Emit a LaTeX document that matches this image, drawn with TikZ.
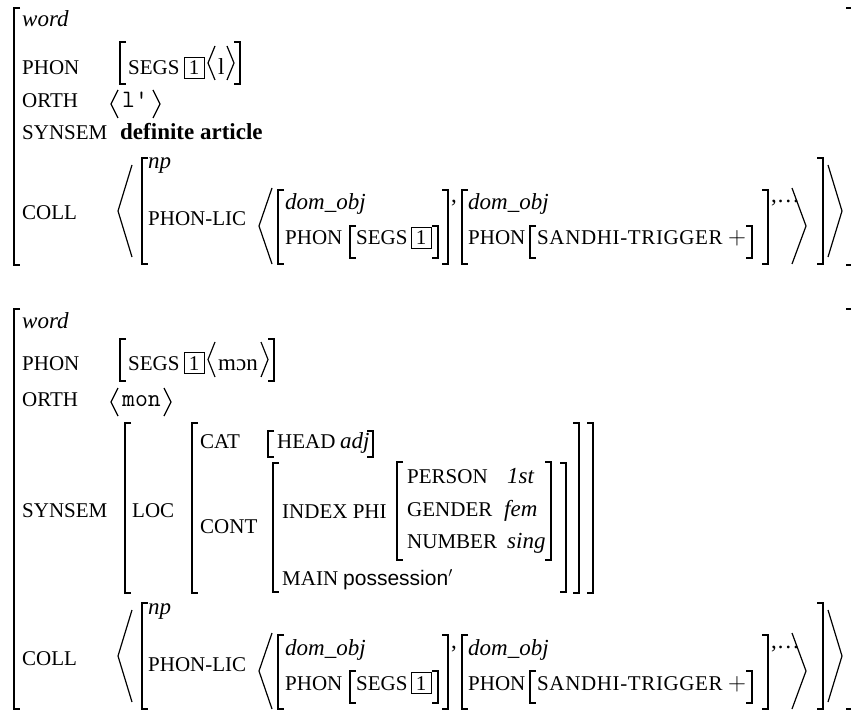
\documentclass[tikz,border=0pt]{standalone}
\usepackage{fontspec}
\setmainfont{Liberation Serif}
\setsansfont{Liberation Sans}
\usetikzlibrary{calc}
\tikzset{
  x=1pt, y=-1pt,
  lab/.style={anchor=base west, inner sep=0pt, font=\fontsize{21}{24}\selectfont},
  ity/.style={anchor=base west, inner sep=0pt, font=\fontsize{23}{27}\selectfont\itshape},
  bfy/.style={anchor=base west, inner sep=0pt, font=\fontsize{23}{27}\selectfont\bfseries},
  rmy/.style={anchor=base west, inner sep=0pt, font=\fontsize{23}{27}\selectfont},
  tty/.style={anchor=base west, inner sep=0pt, font=\fontsize{25}{28}\selectfont\ttfamily},
  sfy/.style={anchor=base west, inner sep=0pt, font=\fontsize{21}{25}\selectfont\sffamily},
  bx/.style={anchor=base west, draw, line width=0.9pt, inner xsep=4.5pt, inner ysep=2.5pt,
     text height=15pt, text depth=1pt, font=\fontsize{21}{23}\selectfont},
  brk/.style={line width=1.4pt},
  obrk/.style={line width=1.8pt},
  abr/.style={line width=1.2pt}
}
\newcommand\LB[4]{\draw[#4] ({#1+6},#2) -- (#1,#2) -- (#1,#3) -- ({#1+6},#3);}
\newcommand\RB[4]{\draw[#4] ({#1-6},#2) -- (#1,#2) -- (#1,#3) -- ({#1-6},#3);}
\newcommand\LA[4]{\draw[abr] (#2,#3) -- (#1,{(#3+#4)/2}) -- (#2,#4);}
\newcommand\RA[4]{\draw[abr] (#2,#3) -- (#1,{(#3+#4)/2}) -- (#2,#4);}
% COLL block, shifted by #1
\newcommand\collblock[2]{%
  \begin{scope}[yshift=-#1pt]
  \node[lab] (coll#2) at (22,220) {COLL};
  \LA{118}{132}{165}{257}
  \LB{142}{158}{264}{brk}
  \node[ity] (np#2) at (148,169) {np};
  \node[lab] (phonlic#2) at (148,226) {PHON-LIC};
  \LA{259}{272}{188}{264}
  \LB{278}{190}{264}{brk}
  \node[ity] (doma#2) at (285,210) {dom\_obj};
  \node[lab] (phona#2) at (285,245) {PHON};
  \LB{350}{226}{258}{brk}
  \node[lab] (segsa#2) at (356,245) {SEGS};
  \node[bx] (boxa#2) at (411,245) {1};
  \RB{438}{226}{258}{brk}
  \RB{448}{190}{264}{brk}
  \node[rmy] (comma#2) at (451,203) {,};
  \LB{462}{190}{264}{brk}
  \node[ity] (domb#2) at (468,210) {dom\_obj};
  \node[lab] (phonb#2) at (468,245) {PHON};
  \LB{530}{226}{258}{brk}
  \node[lab] (sandhi#2) at (537,245) {\addfontfeature{LetterSpace=3}SANDHI-TRIGGER};
  \node[rmy] (plus#2) at (728,245) {$+$};
  \RB{752}{226}{258}{brk}
  \RB{768}{190}{264}{brk}
  \node[rmy] (dots#2) at (771,203) {,\ldots};
  \RA{806}{792}{188}{264}
  \RB{823}{158}{264}{brk}
  \RA{842}{828}{165}{257}
  \end{scope}}
\begin{document}
\begin{tikzpicture}
\useasboundingbox (0,0) rectangle (851,711);
% ---------- first AVM ----------
\LB{14}{8}{265}{obrk}
\draw[obrk] (846,8) -- (853,8) -- (853,265) -- (846,265);
\node[ity] (word1) at (22,27) {word};
\node[lab] (phon1) at (22,75) {PHON};
\LB{120}{42}{84}{brk}
\node[lab] (segs1) at (128,75) {SEGS};
\node[bx] (box1) at (184,75) {1};
\LA{208}{215}{46}{80}
\node[rmy] (l1) at (218,75) {l};
\RA{234}{227}{46}{80}
\RB{240}{42}{84}{brk}
\node[lab] (orth1) at (22,108) {ORTH};
\LA{111}{118}{90}{118}
\node[tty] (lq1) at (122,108) {l'};
\RA{160}{153}{90}{118}
\node[lab] (synsem1) at (22,140) {SYNSEM};
\node[bfy] (def1) at (120,140) {definite article};
\collblock{0}{a}
% ---------- second AVM ----------
\LB{14}{309}{709}{obrk}
\draw[obrk] (846,309) -- (853,309) -- (853,709) -- (846,709);
\node[ity] (word2) at (22,328) {word};
\node[lab] (phon2) at (22,370) {PHON};
\LB{120}{339}{381}{brk}
\node[lab] (segs2) at (128,370) {SEGS};
\node[bx] (box2) at (184,370) {1};
\LA{208}{215}{342}{377}
\node[rmy] (mon2) at (218,370) {mɔn};
\RA{268}{261}{342}{377}
\RB{274}{339}{381}{brk}
\node[lab] (orth2) at (22,406) {ORTH};
\LA{111}{118}{388}{416}
\node[tty] (mon3) at (122,406) {mon};
\RA{171}{164}{388}{416}
\node[lab] (synsem2) at (22,517) {SYNSEM};
\LB{125}{423}{593}{brk}
\node[lab] (loc) at (132,517) {LOC};
\LB{192}{423}{593}{brk}
\node[lab] (cat) at (200,448) {CAT};
\LB{268}{431}{457}{brk}
\node[lab] (head) at (277,448) {HEAD};
\node[ity] (adj) at (340,448) {adj};
\RB{373}{431}{457}{brk}
\node[lab] (cont) at (200,533) {CONT};
\LB{273}{463}{592}{brk}
\node[lab] (index) at (282,518) {INDEX PHI};
\LB{397}{462}{560}{brk}
\node[lab] (person) at (407,483) {PERSON};
\node[ity] (first) at (507,483) {1st};
\node[lab] (gender) at (407,516) {GENDER};
\node[ity] (fem) at (504,516) {fem};
\node[lab] (number) at (407,548) {NUMBER};
\node[ity] (sing) at (507,548) {sing};
\RB{551}{462}{560}{brk}
\node[lab] (main) at (282,585) {MAIN};
\node[sfy] (poss) at (343,585) {possession$'$};
\RB{566}{463}{592}{brk}
\RB{579}{423}{593}{brk}
\RB{593}{423}{593}{brk}
\collblock{445}{b}
\end{tikzpicture}
\end{document}
